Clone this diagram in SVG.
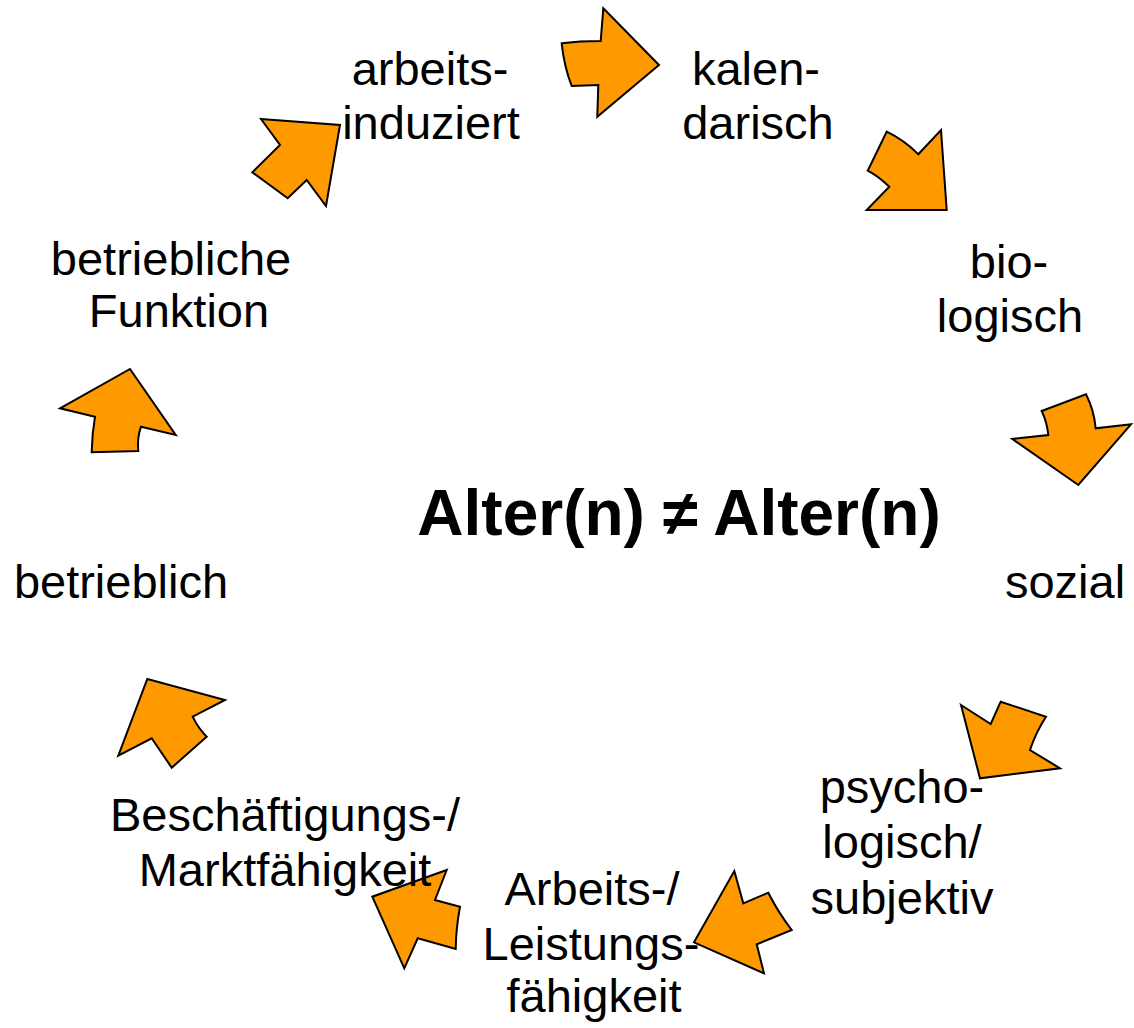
<svg xmlns="http://www.w3.org/2000/svg" width="1134" height="1028" viewBox="0 0 1134 1028">
<style>
.arr{fill:#FF9900;stroke:#000;stroke-width:2;stroke-linejoin:miter}
.t{font-family:"Liberation Sans",Arial,sans-serif;font-size:47px;fill:#000;text-anchor:middle}
.title{font-family:"Liberation Sans",Arial,sans-serif;font-size:64px;font-weight:bold;fill:#000;text-anchor:middle}
</style>
<rect width="1134" height="1028" fill="#fff"/>
<g id="connectors">
<path class="arr" d="M561.7,43.3 Q580,41 600.7,41 L603.3,8.3 L659,65 L597.3,116.7 L598.3,85 L571.7,86 Q564,66 561.7,43.3 Z"/>
<path class="arr" d="M886.7,131.7 Q904,140 918.3,154.3 L941,130 L946.7,210 L866.7,210 L889.3,186.7 Q878,176 867.7,170.7 Z"/>
<path class="arr" d="M1041.7,411 L1086,394.3 Q1094,410 1095.7,428.3 L1131,424.3 L1078.3,485 L1012.3,439 L1048.3,435 Q1047,422 1041.7,411 Z"/>
<path class="arr" d="M961,705 L990.7,724 L1000.7,701.7 L1046,716.7 Q1036,732 1030,750 L1060,768.3 L980,778.3 Z"/>
<path class="arr" d="M734.3,871 L743.3,903.3 L768.3,892.7 Q778,912 791.7,930 L756.7,944.3 L764,973.3 L694,942.3 Z"/>
<path class="arr" d="M446.7,870 L435,900 L460,906.7 Q456,928 455.7,949 L417.7,938.3 L404.3,968.3 L372.3,896.7 Z"/>
<path class="arr" d="M147.3,679 L225,700 L192.7,716.7 Q198,728 206.7,736.7 L171.7,767.7 L151.7,738.3 L118.3,755.7 Z"/>
<path class="arr" d="M130,369 L175.7,435 L141,426.7 Q137,438 138.3,451 L91.7,452.3 Q92,434 95,416.7 L60,408.3 Z"/>
<path class="arr" d="M261,119 L340,125 L326,206 L306.7,180 L287.7,198.3 L252.3,172.3 L280,145 Z"/>
</g>
<g id="n-arbeits"><text class="t" x="430" y="85">arbeits-</text><text class="t" x="431" y="139">induziert</text></g>
<g id="n-kalen"><text class="t" x="756" y="85">kalen-</text><text class="t" x="758" y="139">darisch</text></g>
<g id="n-bio"><text class="t" x="1009" y="278">bio-</text><text class="t" x="1010" y="332">logisch</text></g>
<g id="n-sozial"><text class="t" x="1065" y="598">sozial</text></g>
<g id="n-psycho"><text class="t" x="902" y="803">psycho-</text><text class="t" x="902" y="858">logisch/</text><text class="t" x="902" y="914">subjektiv</text></g>
<g id="n-arbeits2"><text class="t" x="592" y="905">Arbeits-/</text><text class="t" x="591" y="960">Leistungs-</text><text class="t" x="594" y="1012">fähigkeit</text></g>
<g id="n-besch"><text class="t" x="285" y="831">Beschäftigungs-/</text><text class="t" x="285" y="886">Marktfähigkeit</text></g>
<g id="n-betrieblich"><text class="t" x="121" y="598">betrieblich</text></g>
<g id="n-funktion"><text class="t" x="171" y="275">betriebliche</text><text class="t" x="179" y="327">Funktion</text></g>
<g id="center"><text class="title" x="679" y="535">Alter(n) ≠ Alter(n)</text></g>
</svg>
